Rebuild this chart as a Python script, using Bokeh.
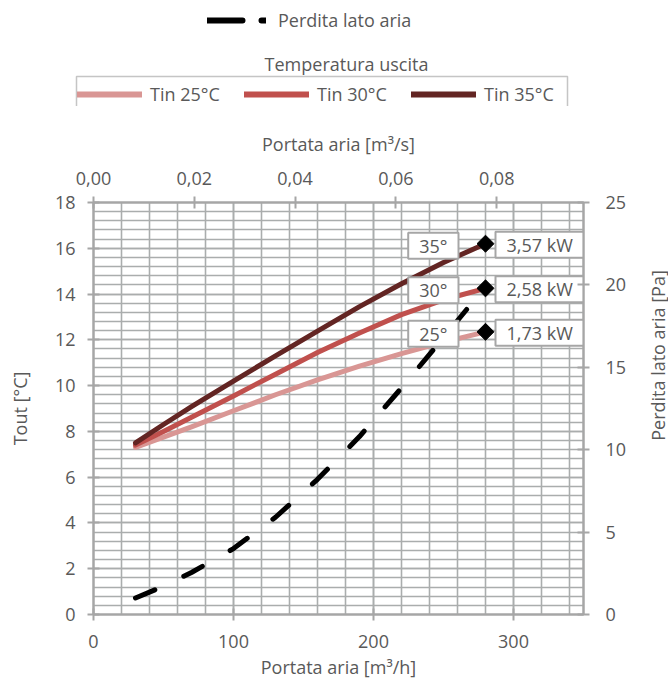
import numpy as np
from bokeh.plotting import figure
from bokeh.layouts import column, row
from bokeh.models import (Range1d, LinearAxis, SingleIntervalTicker, CustomJSTickFormatter,
                          Legend, LegendItem, Label, ColumnDataSource, BoxAnnotation)
from bokeh.core.properties import value
from bokeh.embed import file_html
from bokeh.resources import INLINE

# ---- data ----
portata_m3h = [30, 50, 70, 100, 130, 160, 190, 220, 250, 280]
tout_tin25 = [7.3, 7.75, 8.2, 8.9, 9.6, 10.25, 10.85, 11.4, 11.9, 12.35]
tout_tin30 = [7.4, 8.0, 8.62, 9.55, 10.5, 11.45, 12.3, 13.1, 13.75, 14.25]
tout_tin35 = [7.5, 8.3, 9.08, 10.2, 11.3, 12.38, 13.45, 14.45, 15.38, 16.2]
perdita_pa = [1.0, 1.72, 2.55, 4.0, 5.9, 8.2, 10.8, 13.75, 16.8, 19.9]

series_names = ["Tin 25°C", "Tin 30°C", "Tin 35°C"]
series_values = [tout_tin25, tout_tin30, tout_tin35]
series_colors = ["#D99694", "#C0504D", "#632523"]
end_labels_temp = ["25°", "30°", "35°"]
end_labels_power = ["1,73 kW", "2,58 kW", "3,57 kW"]

FONT = "Open Sans"
FS = "18px"
TXT = "#595959"
GRID = "#AAADAD"
AX = "#A6A6A6"

def bare(fig):
    fig.xaxis.visible = False
    fig.yaxis.visible = False
    fig.xgrid.visible = False
    fig.ygrid.visible = False
    fig.outline_line_color = None

# ---------------- main chart ----------------
p = figure(width=640, height=575, output_backend="svg", toolbar_location=None,
           x_range=Range1d(0, 350), y_range=Range1d(0, 18),
           min_border_left=93, min_border_right=57, min_border_top=96, min_border_bottom=66,
           background_fill_color="white", border_fill_color="white")
p.extra_y_ranges = {"pa": Range1d(0, 25)}
p.extra_x_ranges = {"ms": Range1d(0, 350 / 3600)}
p.outline_line_color = AX
p.outline_line_width = 2

def style_axis(ax, standoff):
    ax.axis_line_color = AX
    ax.axis_line_width = 2
    ax.major_tick_line_color = AX
    ax.major_tick_line_width = 2
    ax.major_tick_in = 6
    ax.major_tick_out = 6
    ax.minor_tick_line_color = None
    ax.major_label_text_font = FONT
    ax.major_label_text_font_size = FS
    ax.major_label_text_color = TXT
    ax.major_label_standoff = standoff
    ax.axis_label_text_font = FONT
    ax.axis_label_text_font_size = FS
    ax.axis_label_text_font_style = "normal"
    ax.axis_label_text_color = TXT

p.xaxis.ticker = SingleIntervalTicker(interval=100, num_minor_ticks=5)
p.yaxis.ticker = SingleIntervalTicker(interval=2, num_minor_ticks=5)
p.xaxis.axis_label = "Portata aria [m³/h]"
p.yaxis.axis_label = "Tout [°C]"
style_axis(p.xaxis[0], 14)
style_axis(p.yaxis[0], 12)
p.xaxis.axis_label_standoff = 4
p.yaxis.axis_label_standoff = 20

top_ax = LinearAxis(x_range_name="ms", axis_label="Portata aria [m³/s]",
                    ticker=SingleIntervalTicker(interval=0.02, num_minor_ticks=0),
                    formatter=CustomJSTickFormatter(code="return tick.toFixed(2).replace('.', ',');"))
style_axis(top_ax, 12)
top_ax.axis_label_standoff = 13
p.add_layout(top_ax, "above")

right_ax = LinearAxis(y_range_name="pa", ticker=SingleIntervalTicker(interval=5, num_minor_ticks=0))
style_axis(right_ax, 16)
p.add_layout(right_ax, "right")

for g in (p.xgrid, p.ygrid):
    g.grid_line_color = GRID
    g.grid_line_width = 1.6
    g.minor_grid_line_color = GRID
    g.minor_grid_line_width = 1.6

for vals, col in zip(series_values, series_colors):
    p.line(portata_m3h, vals, line_color=col, line_width=5, line_cap="round", line_join="round")

p.line(portata_m3h, perdita_pa, y_range_name="pa", line_color="black", line_width=5,
       line_dash="21 32", line_cap="round")

end_x = [portata_m3h[-1]] * 3
end_y = [v[-1] for v in series_values]
src = ColumnDataSource(dict(x=end_x, y=end_y, t=end_labels_temp, kw=end_labels_power))
p.scatter("x", "y", source=src, marker="square", angle=np.pi / 4, size=12,
          fill_color="black", line_color="black")
common = dict(source=src, text_font=value(FONT), text_font_size=FS, text_color=TXT,
              text_baseline="middle", background_fill_color="white",
              border_line_color=AX, border_line_width=2, padding=(11, 1))
p.text("x", "y", text="t", text_align="right", x_offset=-27, y_offset=2, **common)
p.text("x", "y", text="kw", text_align="left", x_offset=10, y_offset=1, **common)

# ---------------- legend strip (top) ----------------
LG_H = 106
lg = figure(width=668, height=LG_H, output_backend="svg", toolbar_location=None,
            x_range=Range1d(0, 1), y_range=Range1d(0, 1), min_border=0,
            min_border_left=0, min_border_right=0, min_border_top=0, min_border_bottom=0,
            background_fill_color="white", border_fill_color="white")
bare(lg)
# legend swatches: renderers whose (off-range) points are clipped, used only for the keys
dash_r = lg.line([2, 3], [2, 2], line_color="black", line_width=6, line_dash="35 19",
                 line_cap="round")
temp_r = [lg.line([2, 3], [2, 2], line_color=c, line_width=6, line_cap="round")
          for c in series_colors]

leg_pa = Legend(items=[LegendItem(label="Perdita lato aria", renderers=[dash_r])],
                location=(207, LG_H - 32), orientation="horizontal", glyph_width=59,
                glyph_height=20, label_height=20, label_standoff=12, padding=0, margin=0,
                border_line_color=None, background_fill_alpha=0, label_text_font=FONT,
                label_text_font_size=FS, label_text_color=TXT)
lg.add_layout(leg_pa, "center")

leg_t = Legend(items=[LegendItem(label=n, renderers=[r]) for n, r in zip(series_names, temp_r)],
               location=(77, 0), orientation="horizontal", glyph_width=65,
               glyph_height=22, label_height=22, label_width=72, label_standoff=8, spacing=22,
               padding=3, margin=0, border_line_color=None,
               background_fill_alpha=0, label_text_font=FONT, label_text_font_size=FS,
               label_text_color=TXT)
lg.add_layout(leg_t, "center")
# open frame round the series legend (its lower edge falls outside the strip)
lg.add_layout(BoxAnnotation(left=76, right=567, top=LG_H - 76, bottom=-10,
                            left_units="screen", right_units="screen",
                            top_units="screen", bottom_units="screen",
                            fill_alpha=0, line_color="#404040", line_width=1.5))
lg.add_layout(Label(x=346, y=LG_H - 63, x_units="screen", y_units="screen",
                    text="Temperatura uscita", text_align="center", text_baseline="middle",
                    text_font=FONT, text_font_size=FS, text_color=TXT))

# ---------------- right-axis title strip ----------------
side = figure(width=28, height=575, output_backend="svg", toolbar_location=None,
              x_range=Range1d(0, 1), y_range=Range1d(0, 1), min_border=0,
              min_border_left=0, min_border_right=0, min_border_top=0, min_border_bottom=0,
              background_fill_color="white", border_fill_color="white")
bare(side)
side.add_layout(Label(x=17, y=259, x_units="screen", y_units="screen",
                      text="Perdita lato aria [Pa]", angle=np.pi / 2, text_align="center",
                      text_baseline="middle", text_font=FONT, text_font_size=FS, text_color=TXT))

layout = column(lg, row(p, side, spacing=0), spacing=0)
open("out.html", "w").write(file_html(layout, INLINE))
